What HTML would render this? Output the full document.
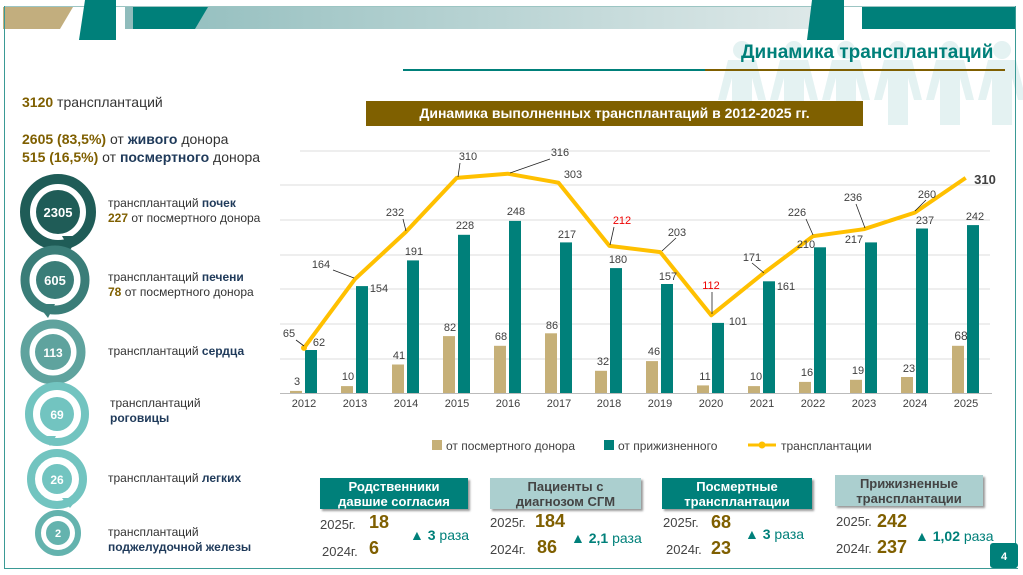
<!DOCTYPE html>
<html><head><meta charset="utf-8"><style>
*{margin:0;padding:0;box-sizing:border-box}
body{width:1023px;height:575px;position:relative;overflow:hidden;background:#fff;font-family:"Liberation Sans",sans-serif;color:#333}
.a{position:absolute;white-space:nowrap}
.g{color:#7f5f00;font-weight:bold}
.n{color:#1f3a5a;font-weight:bold}
.box{position:absolute;height:31px;text-align:center;font-size:13px;font-weight:bold;line-height:15px;padding-top:1px;box-shadow:2px 2px 2px #999}
.t{background:#00807a;color:#fff}.l{background:#abcfcf;color:#444}
.yr{position:absolute;font-size:13px;color:#444}
.big{position:absolute;font-size:18px;font-weight:bold;color:#7f5f00}
.up{position:absolute;font-size:14px;color:#00807a}
</style></head><body>
<svg class="a" style="left:0;top:0" width="1023" height="575">
<defs><linearGradient id="hg" x1="0" x2="1"><stop offset="0" stop-color="#8fbcbc"/><stop offset="1" stop-color="#dfe9e9"/></linearGradient></defs>
<rect x="125" y="6" width="700" height="23" fill="url(#hg)"/>
<line x1="4" y1="6.5" x2="1015" y2="6.5" stroke="#9cc5c3"/>
<polygon points="3,7 73,7 60,29 3,29" fill="#c2ae7e"/>
<polygon points="85,0 116,0 116,40 79,40" fill="#00807a"/>
<polygon points="133,7 208,7 195,29 133,29" fill="#00807a"/>
<polygon points="812,0 844,0 844,40 807,40" fill="#00807a"/>
<rect x="862" y="7" width="153" height="22" fill="#00807a"/>
<g fill="#e4f2f2">
<g id="p"><circle cx="742" cy="50" r="9"/><path d="M728,60 H756 L766,100 H758 L752,78 V125 H732 V78 L726,100 H718 Z"/></g>
<use href="#p" x="52"/><use href="#p" x="104"/><use href="#p" x="156"/><use href="#p" x="208"/><use href="#p" x="260"/>
</g>
<rect x="403" y="69" width="302" height="2" fill="#00807a"/>
<rect x="705" y="69" width="300" height="2" fill="#7f5f00"/>
<line x1="4.5" y1="6" x2="4.5" y2="568" stroke="#3a9a95" stroke-width="1"/>
<line x1="4" y1="568.5" x2="1018" y2="568.5" stroke="#3a9a95" stroke-width="1"/>
<line x1="1015.5" y1="6" x2="1015.5" y2="568" stroke="#3a9a95" stroke-width="1"/>
<g font-family="Liberation Sans" font-weight="bold" fill="#fff" text-anchor="middle">
<circle cx="58" cy="212" r="33" fill="none" stroke="#1f5c57" stroke-width="10"/><circle cx="58" cy="212" r="22" fill="#1f5c57"/>
<polygon points="62,236 80,236 70,250" fill="#1f5c57"/><text x="58" y="217" font-size="13">2305</text>
<circle cx="55" cy="280" r="30" fill="none" stroke="#3a7d78" stroke-width="9"/><circle cx="55" cy="280" r="19" fill="#3a7d78"/>
<polygon points="37,304 55,304 48,318" fill="#3a7d78"/><text x="55" y="285" font-size="13">605</text>
<circle cx="53" cy="352" r="28" fill="none" stroke="#5fa39e" stroke-width="9"/><circle cx="53" cy="352" r="18" fill="#5fa39e"/>
<text x="53" y="357" font-size="12">113</text>
<circle cx="57" cy="414" r="28" fill="none" stroke="#72c4c0" stroke-width="8"/><circle cx="57" cy="414" r="17" fill="#72c4c0"/>
<polygon points="42,436 56,436 50,446" fill="#72c4c0"/><text x="57" y="419" font-size="12">69</text>
<circle cx="57" cy="479" r="26" fill="none" stroke="#72c4c0" stroke-width="8"/><circle cx="57" cy="479" r="15" fill="#72c4c0"/>
<polygon points="62,498 78,498 70,508" fill="#72c4c0"/><text x="57" y="484" font-size="12">26</text>
<circle cx="58" cy="533" r="20" fill="none" stroke="#64b3ae" stroke-width="6"/><circle cx="58" cy="533" r="12" fill="#64b3ae"/>
<text x="58" y="537" font-size="11">2</text>
</g>
<g stroke="#dcdcdc" stroke-width="1">
<line x1="300" y1="151" x2="990" y2="151"/><line x1="280" y1="185" x2="990" y2="185"/><line x1="280" y1="220" x2="990" y2="220"/>
<line x1="280" y1="255" x2="990" y2="255"/><line x1="280" y1="289" x2="990" y2="289"/><line x1="280" y1="324" x2="990" y2="324"/>
<line x1="280" y1="359" x2="990" y2="359"/></g>
<line x1="280" y1="393.5" x2="992" y2="393.5" stroke="#bbb"/>
<g fill="#c6b078">
<rect x="290" y="390.9" width="12" height="2.1"/><rect x="341" y="386.1" width="12" height="6.9"/><rect x="392" y="364.5" width="12" height="28.5"/>
<rect x="443" y="336.1" width="12" height="56.9"/><rect x="494" y="345.8" width="12" height="47.2"/><rect x="545" y="333.3" width="12" height="59.7"/>
<rect x="595" y="370.8" width="12" height="22.2"/><rect x="646" y="361.1" width="12" height="31.9"/><rect x="697" y="385.4" width="12" height="7.6"/>
<rect x="748" y="386.1" width="12" height="6.9"/><rect x="799" y="381.9" width="12" height="11.1"/><rect x="850" y="379.8" width="12" height="13.2"/>
<rect x="901" y="377" width="12" height="16"/><rect x="952" y="345.8" width="12" height="47.2"/></g>
<g fill="#00807a">
<rect x="305" y="350" width="12" height="43"/><rect x="356" y="286.1" width="12" height="106.9"/><rect x="407" y="260.4" width="12" height="132.6"/>
<rect x="458" y="234.8" width="12" height="158.2"/><rect x="509" y="220.9" width="12" height="172.1"/><rect x="560" y="242.4" width="12" height="150.6"/>
<rect x="610" y="268.1" width="12" height="124.9"/><rect x="661" y="284" width="12" height="109"/><rect x="712" y="322.9" width="12" height="70.1"/>
<rect x="763" y="281.3" width="12" height="111.7"/><rect x="814" y="247.3" width="12" height="145.7"/><rect x="865" y="242.4" width="12" height="150.6"/>
<rect x="916" y="228.5" width="12" height="164.5"/><rect x="967" y="225.1" width="12" height="167.9"/></g>
<polyline fill="none" stroke="#ffc000" stroke-width="4" stroke-linejoin="round" points="304,347.9 354.9,279.2 405.8,232 456.7,177.9 507.6,173.7 558.5,182.7 609.4,245.9 660.3,252.1 711.2,315.3 762.1,274.3 813,236.2 863.9,229.2 914.8,212.6 965.7,177.9"/>
<circle cx="304" cy="347.9" r="3" fill="#ffc000"/>
<g stroke="#222" stroke-width="0.8">
<line x1="296" y1="340" x2="304" y2="346"/><line x1="333" y1="270" x2="354" y2="278"/><line x1="403" y1="219" x2="406" y2="231"/>
<line x1="460" y1="163" x2="458" y2="177"/><line x1="550" y1="159" x2="510" y2="173"/><line x1="614" y1="227" x2="610" y2="245"/>
<line x1="676" y1="238" x2="662" y2="251"/><line x1="712" y1="292" x2="712" y2="314"/><line x1="752" y1="263" x2="764" y2="273"/>
<line x1="806" y1="219" x2="813" y2="235"/><line x1="856" y1="204" x2="865" y2="228"/><line x1="926" y1="200" x2="915" y2="211"/></g>
<g font-family="Liberation Sans" font-size="11" fill="#404040" text-anchor="middle">
<text x="289" y="337">65</text><text x="321" y="268">164</text><text x="395" y="216">232</text><text x="468" y="160">310</text>
<text x="560" y="156">316</text><text x="573" y="178">303</text><text x="622" y="224" fill="#e00">212</text><text x="677" y="236">203</text>
<text x="711" y="289" fill="#e00">112</text><text x="752" y="261">171</text><text x="797" y="216">226</text><text x="853" y="201">236</text>
<text x="927" y="198">260</text><text x="985" y="184" font-size="13" font-weight="bold">310</text>
<text x="319" y="346">62</text><text x="379" y="292">154</text><text x="414" y="255">191</text><text x="465" y="229">228</text>
<text x="516" y="215">248</text><text x="567" y="238">217</text><text x="618" y="263">180</text><text x="668" y="280">157</text>
<text x="738" y="325">101</text><text x="786" y="290">161</text><text x="806" y="248">210</text><text x="854" y="243">217</text>
<text x="925" y="224">237</text><text x="975" y="220">242</text>
<text x="297" y="385">3</text><text x="348" y="380">10</text><text x="399" y="359">41</text><text x="450" y="331">82</text>
<text x="501" y="340">68</text><text x="552" y="329">86</text><text x="603" y="365">32</text><text x="654" y="355">46</text>
<text x="705" y="380">11</text><text x="756" y="380">10</text><text x="807" y="376">16</text><text x="858" y="374">19</text>
<text x="909" y="372">23</text><text x="961" y="340" font-size="12">68</text>
<g font-size="11"><text x="304" y="407">2012</text><text x="355" y="407">2013</text><text x="406" y="407">2014</text><text x="457" y="407">2015</text>
<text x="508" y="407">2016</text><text x="559" y="407">2017</text><text x="609" y="407">2018</text><text x="660" y="407">2019</text>
<text x="711" y="407">2020</text><text x="762" y="407">2021</text><text x="813" y="407">2022</text><text x="864" y="407">2023</text>
<text x="915" y="407">2024</text><text x="966" y="407">2025</text></g>
</g>
<rect x="432" y="440" width="10" height="10" fill="#c6b078"/>
<rect x="604" y="440" width="10" height="10" fill="#00807a"/>
<line x1="748" y1="445" x2="776" y2="445" stroke="#ffc000" stroke-width="3"/><circle cx="762" cy="445" r="3.5" fill="#ffc000"/>
<g font-family="Liberation Sans" font-size="12" fill="#404040">
<text x="446" y="450">от посмертного донора</text><text x="618" y="450">от прижизненного</text><text x="781" y="450">трансплантации</text></g>
<rect x="990" y="543" width="28" height="25" rx="3" fill="#00807a"/>
<text x="1004" y="560" font-family="Liberation Sans" font-size="11" font-weight="bold" fill="#fff" text-anchor="middle">4</text>
</svg>

<div class="a" style="left:741px;top:42px;font-size:19px;font-weight:bold;color:#00807a">Динамика трансплантаций</div>
<div class="a" style="left:366px;top:101px;width:497px;height:25px;background:#7f6000;color:#fff;font-weight:bold;font-size:14px;text-align:center;line-height:25px">Динамика выполненных трансплантаций в 2012-2025 гг.</div>

<div class="a" style="left:22px;top:94px;font-size:14px"><span class="g">3120</span> трансплантаций</div>
<div class="a" style="left:22px;top:131px;font-size:14px"><span class="g">2605 (83,5%)</span> от <span class="n">живого</span> донора</div>
<div class="a" style="left:22px;top:149px;font-size:14px"><span class="g">515 (16,5%)</span> от <span class="n">посмертного</span> донора</div>

<div class="a" style="left:108px;top:196px;font-size:12px;line-height:15px">трансплантаций <span class="n">почек</span><br><span class="g">227</span> от посмертного донора</div>
<div class="a" style="left:108px;top:270px;font-size:12px;line-height:15px">трансплантаций <span class="n">печени</span><br><span class="g">78</span> от посмертного донора</div>
<div class="a" style="left:108px;top:344px;font-size:12px">трансплантаций <span class="n">сердца</span></div>
<div class="a" style="left:110px;top:396px;font-size:12px;line-height:15px">трансплантаций<br><span class="n">роговицы</span></div>
<div class="a" style="left:108px;top:471px;font-size:12px">трансплантаций <span class="n">легких</span></div>
<div class="a" style="left:108px;top:525px;font-size:12px;line-height:15px">трансплантаций<br><span class="n">поджелудочной железы</span></div>

<div class="box t" style="left:320px;top:478px;width:148px">Родственники<br>давшие согласия</div>
<div class="box l" style="left:490px;top:478px;width:151px">Пациенты с<br>диагнозом СГМ</div>
<div class="box t" style="left:662px;top:478px;width:150px">Посмертные<br>трансплантации</div>
<div class="box l" style="left:835px;top:475px;width:148px">Прижизненные<br>трансплантации</div>

<div class="yr" style="left:320px;top:517px">2025г.</div><div class="big" style="left:369px;top:512px">18</div>
<div class="yr" style="left:322px;top:544px">2024г.</div><div class="big" style="left:369px;top:538px">6</div>
<div class="up" style="left:410px;top:527px">▲ <b>3</b> раза</div>

<div class="yr" style="left:490px;top:515px">2025г.</div><div class="big" style="left:535px;top:511px">184</div>
<div class="yr" style="left:490px;top:542px">2024г.</div><div class="big" style="left:537px;top:537px">86</div>
<div class="up" style="left:571px;top:530px">▲ <b>2,1</b> раза</div>

<div class="yr" style="left:663px;top:515px">2025г.</div><div class="big" style="left:711px;top:512px">68</div>
<div class="yr" style="left:666px;top:542px">2024г.</div><div class="big" style="left:711px;top:538px">23</div>
<div class="up" style="left:745px;top:526px">▲ <b>3</b> раза</div>

<div class="yr" style="left:836px;top:514px">2025г.</div><div class="big" style="left:877px;top:511px">242</div>
<div class="yr" style="left:836px;top:541px">2024г.</div><div class="big" style="left:877px;top:537px">237</div>
<div class="up" style="left:915px;top:528px">▲ <b>1,02</b> раза</div>
</body></html>
